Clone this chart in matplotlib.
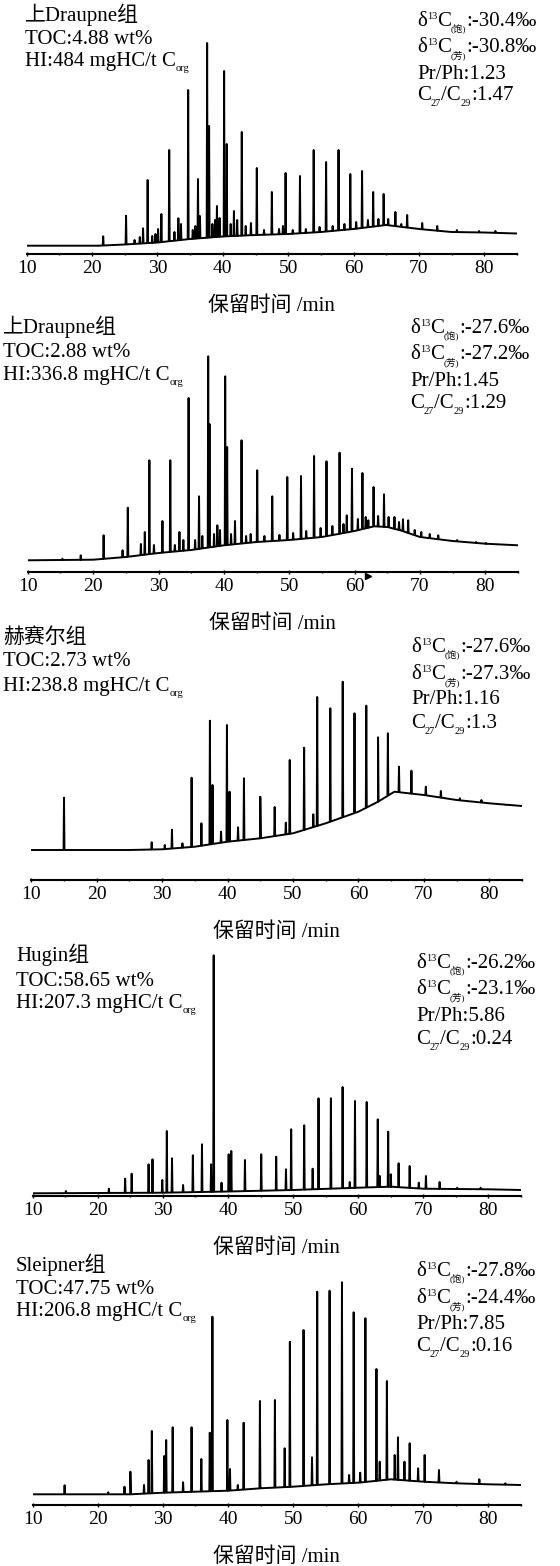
# coding = utf-8
# 五个样品的饱和烃色谱图（保留时间 /min）
import numpy as np
import matplotlib
matplotlib.use('Agg')
import matplotlib.pyplot as plt
from matplotlib.ticker import MultipleLocator

FAM = ['Liberation Serif', 'Noto Sans CJK SC']
plt.rcParams['font.family'] = FAM

# ---- 文字信息 ----
formations = ['上Draupne组', '上Draupne组', '赫赛尔组', 'Hugin组', 'Sleipner组']
toc = ['4.88', '2.88', '2.73', '58.65', '47.75']
hi = ['484', '336.8', '238.8', '207.3', '206.8']
d13c_sat = ['-30.4', '-27.6', '-27.6', '-26.2', '-27.8']
d13c_aro = ['-30.8', '-27.2', '-27.3', '-23.1', '-24.4']
pr_ph = ['1.23', '1.45', '1.16', '5.86', '7.85']
c27_c29 = ['1.47', '1.29', '1.3', '0.24', '0.16']

# ---- 色谱数据 (基线 + 峰顶) ----
p1_base_t = [10, 21, 25, 30, 35, 40, 45, 50, 55, 60, 65, 70, 75, 80, 85]
p1_base_y = [8.3, 8.3, 9.5, 11.5, 15, 17.5, 19, 20, 22, 25, 29, 25, 22, 21.5, 20.5]
p1_peak_t = [21.7, 25.2, 26.5, 27.3, 27.8, 28.5, 29.2, 29.7, 30.1, 30.6, 31.8, 32.6, 33.2, 33.6,
             34.7, 35.4, 35.8, 36.2, 36.5, 37.6, 37.9, 38.4, 38.8, 39.1, 39.5, 40.2, 40.6, 41.2,
             41.7, 42.2, 42.9, 43.5, 44.3, 45.2, 46.3, 47.5, 48.6, 49.2, 49.6, 50.7, 51.8, 52.7,
             53.9, 54.8, 55.8, 56.8, 57.7, 58.6, 59.5, 60.4, 61.3, 62.2, 63.0, 63.8, 64.6, 65.3,
             66.4, 67.3, 68.2, 70.5, 72.8, 75.8, 79.2, 81.7]
p1_peak_y = [17.7, 38.3, 14, 17, 25.7, 74, 18, 20, 25, 40, 104, 22, 35.7, 30,
             164, 24, 28, 75, 38, 211, 128, 30, 34, 48, 36, 183, 110, 30,
             43, 34, 122, 28, 31, 86, 24, 62, 25, 28, 81, 24, 78, 25,
             104, 27, 92, 28, 104, 30, 80, 32, 83, 34, 62, 35, 60, 35,
             42, 30, 39, 31, 28, 24, 23, 23]

p2_base_t = [10, 20, 25, 30, 35, 40, 45, 50, 55, 60, 63, 65, 67, 70, 75, 80, 85]
p2_base_y = [11.7, 12.3, 15, 19, 22, 26.7, 30, 32, 35, 41, 45.7, 45, 41.7, 35, 31, 28.3, 26.7]
p2_peak_t = [15.3, 18.1, 21.6, 24.5, 25.3, 27.3, 27.9, 28.6, 29.3, 30.6, 31.8, 32.5, 33.2, 33.8,
             34.6, 35.6, 36.2, 36.7, 37.6, 37.8, 38.5, 39.0, 39.4, 40.2, 40.5, 41.1, 41.7, 42.7,
             43.4, 44.1, 45.1, 46.2, 47.4, 48.5, 49.7, 50.6, 51.8, 52.6, 53.8, 54.8, 55.7, 56.6,
             57.7, 58.3, 58.8, 59.6, 60.5, 61.2, 61.7, 62.1, 62.9, 63.6, 64.5, 65.2, 66.1, 66.8,
             67.4, 68.2, 69.2, 70.2, 71.5, 72.8, 75.7, 78.6, 80.1]
p2_peak_y = [13.3, 16.7, 36.7, 21.7, 64.3, 28, 40, 111.7, 27, 51, 111.7, 27, 40, 32,
             174, 32, 75.7, 36, 215.7, 148, 38, 46.7, 42, 195.7, 125, 38, 51, 131.7,
             36, 38, 101.7, 36, 75.7, 37, 95, 39, 96, 41, 116, 44, 110.7, 46,
             119.3, 48, 56.7, 103.3, 53, 99, 55, 51.7, 85, 56, 77.7, 55, 55, 50,
             52.7, 51.7, 42, 40, 38, 36.7, 32, 30, 29]
marker_t = [62.0]
marker_y = [-4]

p3_base_t = [10, 25, 30, 35, 40, 45, 50, 55, 60, 63, 65.5, 70, 75, 80, 85]
p3_base_y = [30, 30, 30.7, 33.3, 38.3, 41.7, 46.7, 56.7, 68.3, 78.3, 88.3, 85, 80, 76.7, 74]
p3_peak_t = [15.0, 28.4, 30.4, 31.5, 33.1, 34.5, 36.0, 37.3, 37.7, 39.0, 39.9, 40.3, 41.6, 42.5,
             45.0, 47.2, 48.9, 49.5, 51.7, 53.1, 53.7, 55.7, 57.6, 59.4, 61.2, 63.0, 64.5, 66.2,
             68.1, 70.3, 72.6, 75.5, 78.8, 82.5]
p3_peak_y = [82.3, 37.7, 35, 50.3, 36.7, 102.3, 56.7, 159.3, 95, 48.3, 155, 88.3, 52.7, 101.7,
             83.3, 73, 57.3, 120, 132.3, 65.7, 183, 171.7, 198.3, 166.7, 174.3, 142.7, 146.7, 113.3,
             109.3, 93.3, 89, 81.7, 80, 75]

p4_base_t = [10, 20, 30, 40, 50, 60, 65, 70, 80, 85]
p4_base_y = [2.7, 3, 3.3, 4.5, 6, 8.3, 9.3, 7.3, 6.7, 6]
p4_peak_t = [15.1, 21.7, 24.2, 25.2, 27.8, 28.4, 29.9, 30.6, 31.4, 33.1, 34.6, 36.0, 37.4, 37.8,
             39.0, 40.1, 40.5, 42.6, 45.1, 47.4, 48.9, 49.7, 51.7, 53.0, 53.9, 55.8, 57.6, 58.7,
             59.5, 61.3, 63.0, 63.3, 64.6, 65.0, 66.2, 67.9, 69.3, 70.4, 72.5, 75.2, 78.8]
p4_peak_y = [5, 7.3, 17.3, 22.3, 31.7, 36.7, 16, 65, 37.7, 11, 40.7, 51.7, 31.7, 240.7,
             13.3, 41.7, 45, 36, 41.7, 39.3, 26.7, 66.7, 70.7, 27.3, 97.7, 97.7, 109, 14,
             95, 94, 76.7, 20, 64.3, 21.7, 32.7, 30, 13.3, 20, 14, 8.3, 8.3]

p5_base_t = [10, 25, 30, 40, 45, 50, 55, 60, 65, 70, 75, 80, 85]
p5_base_y = [10.7, 10.7, 12.3, 14.3, 16.7, 18.3, 20.7, 22.3, 25.7, 23.3, 21.7, 20.7, 20]
p5_peak_t = [14.9, 21.6, 24.1, 25.0, 27.1, 27.8, 28.3, 30.2, 30.5, 31.5, 33.1, 34.4, 35.9, 37.2,
             37.6, 39.9, 40.3, 41.5, 42.4, 44.9, 47.2, 48.7, 49.5, 51.6, 52.9, 53.7, 55.6, 57.5,
             58.6, 59.3, 60.3, 61.1, 62.8, 63.3, 64.4, 65.6, 66.1, 67.1, 67.9, 69.2, 70.2, 72.4,
             75.1, 78.6, 82.6]
p5_peak_y = [19.7, 12.7, 18.3, 33.3, 20, 45, 74, 49, 65, 77.7, 22.7, 77.7, 46, 72.3,
             188.3, 85, 36, 20, 82.3, 104, 105, 56.7, 163.3, 175, 47.7, 213.3, 214.3, 222.7,
             30, 192.7, 32.3, 186.7, 136, 43.3, 124, 50, 67.7, 43.3, 61.7, 36.7, 50, 35,
             23.3, 25.7, 21.7]

bases_t = [p1_base_t, p2_base_t, p3_base_t, p4_base_t, p5_base_t]
bases_y = [p1_base_y, p2_base_y, p3_base_y, p4_base_y, p5_base_y]
peaks_t = [p1_peak_t, p2_peak_t, p3_peak_t, p4_peak_t, p5_peak_t]
peaks_y = [p1_peak_y, p2_peak_y, p3_peak_y, p4_peak_y, p5_peak_y]

# ---- 版面 (像素, y 从上往下) ----
W, H = 560, 1566
ax_x0 = [26.7, 27.8, 31.3, 32.7, 32.7]
ax_x1 = [517, 518, 522, 521, 521]
ax_y = [254, 572, 880, 1196, 1505]
ax_h = 250
left_x = [25, 3, 3, 16, 16]
left_yb = [[21, 44, 66], [333, 357, 380], [643, 666, 691], [961, 986, 1008], [1271, 1294, 1316]]
right_x = [417, 410, 411, 416, 416]
right_yb = [[26, 52, 79, 100], [333, 359, 386, 408], [652, 679, 704, 728],
            [968, 994, 1021, 1044], [1276, 1303, 1329, 1351]]
FS = 15


def trace(bt, by, pt, py, hw=0.07):
    xs = list(bt)
    ys = list(by)
    for t, top in zip(pt, py):
        for dx in (-hw, hw):
            xs.append(t + dx)
            ys.append(np.interp(t + dx, bt, by))
        xs.append(t)
        ys.append(top)
    order = np.argsort(xs, kind='stable')
    return np.array(xs)[order], np.array(ys)[order]


def rich(ax, x, y, pieces):
    # pieces: (文字, 字号比例, 垂直偏移pt)
    first = ax.annotate(pieces[0][0], xy=(x, H - y), xycoords='figure pixels',
                        fontsize=FS * pieces[0][1], va='baseline', ha='left',
                        annotation_clip=False)
    prev = first
    for s, sc, dy in pieces[1:]:
        prev = ax.annotate(s, xy=(1, 0), xycoords=(prev, first), xytext=(0, dy),
                           textcoords='offset points', fontsize=FS * sc,
                           va='bottom', ha='left', annotation_clip=False)


fig = plt.figure(figsize=(W / 100, H / 100), dpi=100)

for i in range(5):
    ax = fig.add_axes([ax_x0[i] / W, 1 - ax_y[i] / H, (ax_x1[i] - ax_x0[i]) / W, ax_h / H])
    x, y = trace(bases_t[i], bases_y[i], peaks_t[i], peaks_y[i])
    ax.plot(x, y, color='black', lw=1.4)
    if i == 1:
        ax.plot(marker_t, marker_y, marker='>', color='black', ms=4, ls='none', clip_on=False)
    ax.set_xlim(10, 85)
    ax.set_ylim(0, ax_h)
    for s in ['left', 'right', 'top']:
        ax.spines[s].set_visible(False)
    ax.spines['bottom'].set_linewidth(1.5)
    ax.set_yticks([])
    ax.set_xticks(range(10, 90, 10))
    ax.xaxis.set_minor_locator(MultipleLocator(5))
    ax.tick_params(axis='x', which='major', direction='inout', length=3, width=1,
                   pad=3, labelsize=14)
    ax.tick_params(axis='x', which='minor', direction='inout', length=2, width=1)
    ax.set_xlabel('保留时间 /min', fontsize=FS, labelpad=14)

    # 左侧：组名、TOC、HI
    lx = left_x[i]
    yb = left_yb[i]
    ax.annotate(formations[i], xy=(lx, H - yb[0]), xycoords='figure pixels',
                fontsize=FS, va='baseline', annotation_clip=False)
    ax.annotate('TOC:%s wt%%' % toc[i], xy=(lx, H - yb[1]), xycoords='figure pixels',
                fontsize=FS, va='baseline', annotation_clip=False)
    rich(ax, lx, yb[2], [('HI:%s mgHC/t C' % hi[i], 1, 0), ('org', 0.5, -1.5)])

    # 右侧：碳同位素与比值
    rx = right_x[i]
    ry = right_yb[i]
    rich(ax, rx, ry[0], [('δ', 1, 0), ('13', 0.5, 7.5), ('C', 1, 0), ('(饱)', 0.45, -2),
                         (':%s‰' % d13c_sat[i], 1, 0)])
    rich(ax, rx, ry[1], [('δ', 1, 0), ('13', 0.5, 7.5), ('C', 1, 0), ('(芳)', 0.45, -2),
                         (':%s‰' % d13c_aro[i], 1, 0)])
    rich(ax, rx, ry[2], [('Pr/Ph:%s' % pr_ph[i], 1, 0)])
    rich(ax, rx, ry[3], [('C', 1, 0), ('27', 0.5, -2), ('/C', 1, 0), ('29', 0.5, -2),
                         (':%s' % c27_c29[i], 1, 0)])

fig.savefig('out.png', dpi=100)
